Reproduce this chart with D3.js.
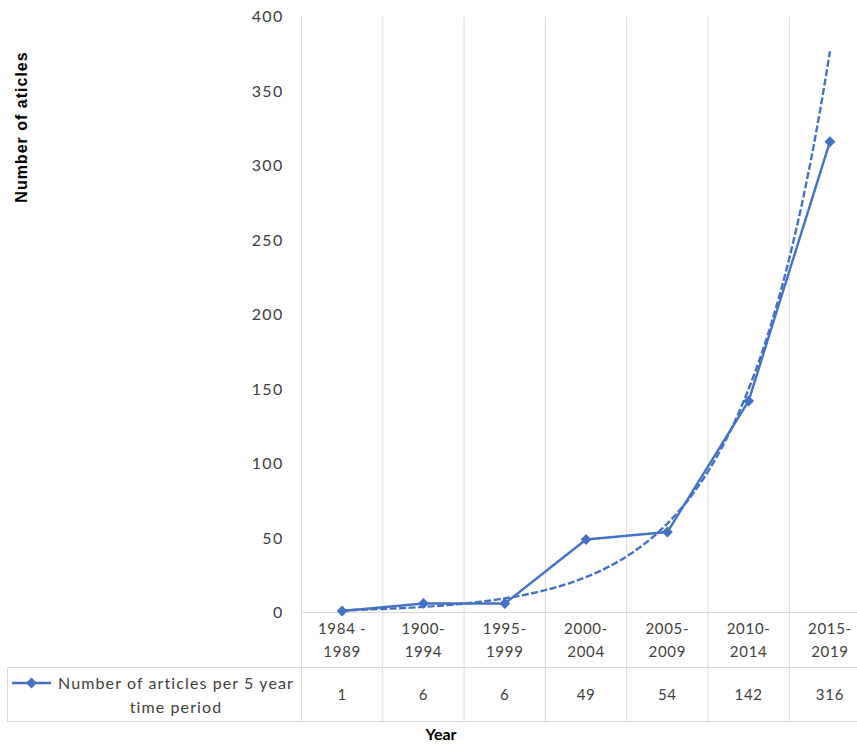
<!DOCTYPE html>
<html>
<head>
<meta charset="utf-8">
<script src="https://cdn.jsdelivr.net/npm/d3@7"></script>
<style>
  html, body { margin: 0; padding: 0; background: #fff; overflow: hidden; }
  svg { display: block; }
  text { font-family: Lato, "Open Sans", sans-serif; }
</style>
</head>
<body>
<script>
// Period categories (two label lines each) and article counts
const categories = ["1984-1989", "1900-1994", "1995-1999", "2000-2004", "2005-2009", "2010-2014", "2015-2019"];
const categoryLine1 = ["1984 -", "1900-", "1995-", "2000-", "2005-", "2010-", "2015-"];
const categoryLine2 = ["1989", "1994", "1999", "2004", "2009", "2014", "2019"];
const articleCounts = [1, 6, 6, 49, 54, 142, 316];
const yTicks = [0, 50, 100, 150, 200, 250, 300, 350, 400];
const seriesName = ["Number of articles per 5 year", "time period"];
const yTitle = "Number of aticles";
const xTitle = "Year";

const W = 857, H = 753;
const color = "#4472C4";
const grid = "#d9d9d9";
const textColor = "#404040";

const plotLeft = 301.5, plotRight = 870.6;
const plotTop = 16.5, plotBottom = 612.5;
const labelRowBottom = 667.5, tableBottom = 721.5;
const tableLeft = 7.5;

const svg = d3.select("body").append("svg").attr("width", W).attr("height", H);

const x = d3.scaleBand().domain(categories).range([plotLeft, plotRight]).padding(0);
const y = d3.scaleLinear().domain([0, 400]).range([plotBottom, plotTop]);
const cx = c => x(c) + x.bandwidth() / 2;

// Vertical gridlines at category boundaries (run down through the data table)
const bounds = categories.map(c => x(c)).concat([plotRight]);
svg.append("g").selectAll("line").data(bounds).join("line")
  .attr("x1", d => d).attr("x2", d => d)
  .attr("y1", plotTop).attr("y2", tableBottom)
  .attr("stroke", grid).attr("stroke-width", 1);

// Horizontal rules: category axis and table borders
svg.append("line").attr("x1", plotLeft).attr("x2", plotRight)
  .attr("y1", plotBottom).attr("y2", plotBottom).attr("stroke", grid);
svg.append("g").selectAll("line").data([labelRowBottom, tableBottom]).join("line")
  .attr("x1", tableLeft).attr("x2", plotRight)
  .attr("y1", d => d).attr("y2", d => d).attr("stroke", grid);
svg.append("line").attr("x1", tableLeft).attr("x2", tableLeft)
  .attr("y1", labelRowBottom).attr("y2", tableBottom).attr("stroke", grid);

// Y axis labels
const yAxis = d3.axisLeft(y).tickValues(yTicks).tickSize(0).tickPadding(18);
const gy = svg.append("g").attr("transform", `translate(${plotLeft},0)`).call(yAxis);
gy.select(".domain").remove();
gy.selectAll("text").attr("fill", textColor).style("font-size", "16px")
  .style("font-family", "Lato, sans-serif").style("letter-spacing", "1.3px");

// Category labels (two lines)
const catG = svg.append("g");
catG.selectAll("text.l1").data(categories).join("text")
  .attr("x", d => cx(d)).attr("y", 634).attr("text-anchor", "middle")
  .attr("fill", textColor).style("font-size", "15px").style("letter-spacing", "0.7px")
  .text((d, i) => categoryLine1[i]);
catG.selectAll("text.l2").data(categories).join("text")
  .attr("x", d => cx(d)).attr("y", 657).attr("text-anchor", "middle")
  .attr("fill", textColor).style("font-size", "15px").style("letter-spacing", "0.7px")
  .text((d, i) => categoryLine2[i]);

// Data table values
svg.append("g").selectAll("text").data(categories).join("text")
  .attr("x", d => cx(d)).attr("y", 700).attr("text-anchor", "middle")
  .attr("fill", textColor).style("font-size", "15px").style("letter-spacing", "0.7px")
  .text((d, i) => articleCounts[i]);

// Exponential trendline (least-squares fit of ln(count) against period index)
const idx = articleCounts.map((v, i) => i + 1);
const lnv = articleCounts.map(v => Math.log(v));
const mx = d3.mean(idx), my = d3.mean(lnv);
const b = d3.sum(idx, (v, i) => (v - mx) * (lnv[i] - my)) / d3.sum(idx, v => (v - mx) ** 2);
const a = my - b * mx;
const xi = d3.scaleLinear().domain([1, categories.length]).range([cx(categories[0]), cx(categories[categories.length - 1])]);
const trend = d3.range(1, categories.length + 0.001, 0.05).map(t => [xi(t), y(Math.exp(a + b * t))]);
svg.append("path").datum(trend)
  .attr("d", d3.line())
  .attr("fill", "none").attr("stroke", color).attr("stroke-width", 2.4)
  .attr("stroke-dasharray", "7,2.5");

// Series line
svg.append("path").datum(articleCounts)
  .attr("d", d3.line().x((d, i) => cx(categories[i])).y(d => y(d)))
  .attr("fill", "none").attr("stroke", color).attr("stroke-width", 2.4)
  .attr("stroke-linejoin", "round");

// Diamond markers
const diamond = (px, py, r) => `M${px},${py - r}L${px + r},${py}L${px},${py + r}L${px - r},${py}Z`;
svg.append("g").selectAll("path").data(articleCounts).join("path")
  .attr("d", (d, i) => diamond(cx(categories[i]), y(d), 5.5))
  .attr("fill", color);

// Legend key in the data table
const keyY = 683;
svg.append("line").attr("x1", 12).attr("x2", 51).attr("y1", keyY).attr("y2", keyY)
  .attr("stroke", color).attr("stroke-width", 2.4);
svg.append("path").attr("d", diamond(31.5, keyY, 5.5)).attr("fill", color);
svg.append("text").attr("x", 176).attr("y", 689).attr("text-anchor", "middle")
  .attr("fill", textColor).style("font-size", "16px").style("letter-spacing", "1.1px")
  .text(seriesName[0]);
svg.append("text").attr("x", 176).attr("y", 713).attr("text-anchor", "middle")
  .attr("fill", textColor).style("font-size", "16px").style("letter-spacing", "1.1px")
  .text(seriesName[1]);

// Axis titles
svg.append("text").attr("transform", "translate(27,127) rotate(-90)")
  .attr("text-anchor", "middle").attr("fill", "#000")
  .style("font-family", "'Liberation Sans', Arial, sans-serif")
  .style("font-size", "16px").style("font-weight", "bold").style("letter-spacing", "1px")
  .text(yTitle);
svg.append("text").attr("x", 441).attr("y", 740).attr("text-anchor", "middle")
  .attr("fill", "#000").style("font-size", "16px").style("font-weight", "bold")
  .text(xTitle);
</script>
</body>
</html>
